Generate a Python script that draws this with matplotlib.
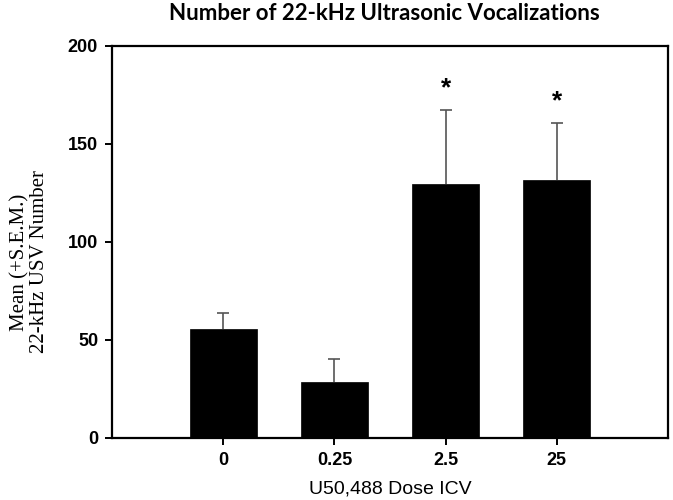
import matplotlib.pyplot as plt
import numpy as np

# data
doses = ['0', '0.25', '2.5', '25']
means = [55.5, 28.7, 129.6, 131.8]
sem = [8.1, 11.6, 37.6, 28.8]
signif = [False, False, True, True]

fig = plt.figure(figsize=(6.73, 5.0), dpi=100)
ax = fig.add_axes([112/673, 1 - 438/500, 556/673, 392/500])

x = np.arange(len(doses))
ax.bar(x, means, width=0.6, color='black', edgecolor='black', linewidth=0.5, zorder=2)
eb = ax.errorbar(x, means, yerr=[np.zeros(len(sem)), sem], fmt='none',
                 ecolor='#555555', elinewidth=1.2, capsize=4.5, capthick=1.2, zorder=1)
# only the upper cap is shown
eb[1][0].set_visible(False)

# significance stars
for xi, m, s, sig in zip(x, means, sem, signif):
    if sig:
        ax.text(xi, m + s + 5, '*', ha='center', va='bottom',
                fontsize=19, fontweight='bold', family='Liberation Sans')

ax.set_xlim(-1, 4)
ax.set_ylim(0, 200)
ax.set_yticks([0, 50, 100, 150, 200])
ax.set_xticks(x)
ax.set_xticklabels(doses)

for sp in ax.spines.values():
    sp.set_linewidth(1.6)

ax.tick_params(axis='both', direction='out', length=5, width=1.4,
               labelsize=13, pad=5)
for lab in ax.get_xticklabels() + ax.get_yticklabels():
    lab.set_fontweight('bold')
    lab.set_family('Liberation Sans')

ax.set_xlabel('U50,488 Dose ICV', family='Liberation Sans', fontsize=14, labelpad=8)
ax.set_ylabel('Mean (+S.E.M.)\n22-kHz USV Number', family='Liberation Serif',
              fontsize=15, linespacing=1.05)
ax.yaxis.set_label_coords(-0.113, 0.449)

fig.text(0.571, 0.972, 'Number of 22-kHz Ultrasonic Vocalizations',
         ha='center', va='center', fontsize=16, fontweight='bold', family='Lato')

fig.savefig('out.png', dpi=100)
